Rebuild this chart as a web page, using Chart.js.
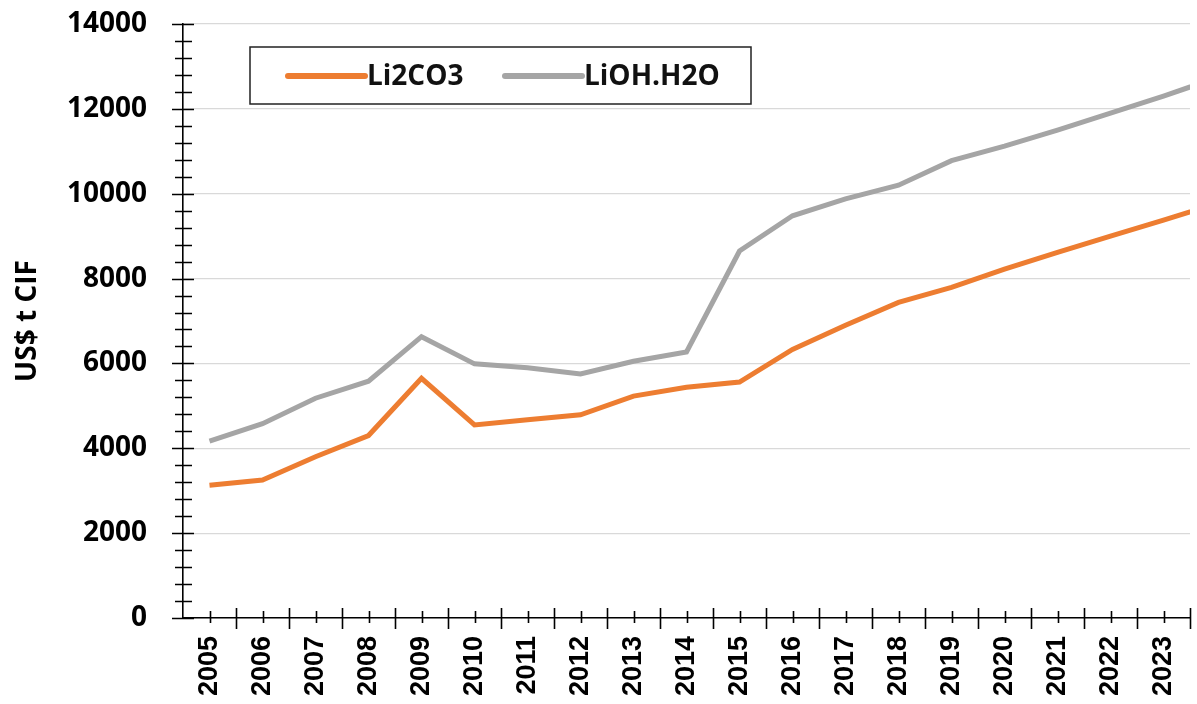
<!DOCTYPE html>
<html lang="en">
<head>
    <meta charset="UTF-8">
    <title>Lithium carbonate and hydroxide price</title>
    <script src="https://cdn.jsdelivr.net/npm/chart.js@4.4.0/dist/chart.umd.min.js"></script>
    <style>
        html, body { margin: 0; padding: 0; background: #fff; }
        #wrap { width: 1197px; height: 704px; }
    </style>
</head>
<body>
    <div id="wrap"><canvas id="priceChart" width="1197" height="704"></canvas></div>
    <script>
        // years of the series; the last one runs off the right edge of the plot in the source image
        const years = [2005, 2006, 2007, 2008, 2009, 2010, 2011, 2012, 2013, 2014,
                       2015, 2016, 2017, 2018, 2019, 2020, 2021, 2022, 2023, 2024];
        const yearTicks = [2005, 2006, 2007, 2008, 2009, 2010, 2011, 2012, 2013, 2014,
                           2015, 2016, 2017, 2018, 2019, 2020, 2021, 2022, 2023];
        const li2co3 = [3130, 3250, 3800, 4300, 5650, 4550, 4670, 4790, 5230, 5440,
                        5560, 6330, 6900, 7440, 7790, 8220, 8620, 9000, 9380, 9760];
        const lioh = [4170, 4580, 5180, 5580, 6630, 5990, 5900, 5750, 6050, 6270,
                      8650, 9480, 9880, 10200, 10780, 11120, 11500, 11900, 12300, 12730];
        const seriesNames = ['Li2CO3', 'LiOH.H2O'];
        const yTicks = [0, 2000, 4000, 6000, 8000, 10000, 12000, 14000];

        const ORANGE = '#ED7D31';
        const GREY = '#A5A5A5';

        const toPoints = vals => years.map((yr, i) => ({ x: yr, y: vals[i] }));

        // crossing tick marks on both axes, like the spreadsheet original
        const axisTicks = {
            id: 'axisTicks',
            afterDraw(chart) {
                const { ctx, chartArea } = chart;
                const xs = chart.scales.x, ys = chart.scales.y;
                ctx.save();
                ctx.strokeStyle = '#000';
                ctx.lineWidth = 1.6;
                ctx.beginPath();
                const ax = chartArea.left;
                for (let v = 0; v <= 14000; v += 400) {
                    const y = Math.round(ys.getPixelForValue(v)) + 0.5;
                    const major = v % 2000 === 0;
                    ctx.moveTo(ax - (major ? 11 : 8), y);
                    ctx.lineTo(ax + (major ? 11 : 9), y);
                }
                const ay = chartArea.bottom;
                yearTicks.forEach(yr => {
                    const xb = Math.round(xs.getPixelForValue(yr + 0.5)) + 0.5;
                    ctx.moveTo(xb, ay - 10);
                    ctx.lineTo(xb, ay + 11);
                    const xc = Math.round(xs.getPixelForValue(yr)) + 0.5;
                    ctx.moveTo(xc, ay - 7);
                    ctx.lineTo(xc, ay + 5);
                });
                ctx.stroke();
                ctx.restore();
            }
        };

        // boxed legend sitting inside the plot
        const boxLegend = {
            id: 'boxLegend',
            afterDraw(chart) {
                const ctx = chart.ctx;
                ctx.save();
                ctx.fillStyle = '#fff';
                ctx.fillRect(250, 47, 501, 57);
                ctx.strokeStyle = '#222';
                ctx.lineWidth = 1.5;
                ctx.strokeRect(250, 47, 501, 57);
                const items = [
                    { x0: 288, x1: 365, tx: 367 },
                    { x0: 505, x1: 582, tx: 584 }
                ];
                ctx.font = "bold 28px 'Open Sans'";
                ctx.textBaseline = 'middle';
                ctx.lineCap = 'round';
                chart.data.datasets.forEach((ds, i) => {
                    const it = items[i];
                    ctx.strokeStyle = ds.borderColor;
                    ctx.lineWidth = 6;
                    ctx.beginPath();
                    ctx.moveTo(it.x0, 76);
                    ctx.lineTo(it.x1, 76);
                    ctx.stroke();
                    ctx.fillStyle = '#111';
                    ctx.fillText(ds.label, it.tx, 77);
                });
                ctx.restore();
            }
        };

        new Chart(document.getElementById('priceChart'), {
            type: 'line',
            data: {
                datasets: [
                    { label: seriesNames[0], data: toPoints(li2co3), borderColor: ORANGE, backgroundColor: ORANGE, borderWidth: 5, tension: 0, pointRadius: 0 },
                    { label: seriesNames[1], data: toPoints(lioh), borderColor: GREY, backgroundColor: GREY, borderWidth: 5, tension: 0, pointRadius: 0 }
                ]
            },
            options: {
                responsive: false,
                animation: false,
                layout: { padding: { top: 24, right: 7, left: 0, bottom: 0 } },
                plugins: {
                    legend: { display: false },
                    tooltip: { enabled: false }
                },
                scales: {
                    x: {
                        type: 'linear',
                        min: 2004.5,
                        max: 2023.5,
                        afterBuildTicks: s => { s.ticks = yearTicks.map(v => ({ value: v })); },
                        grid: { display: false, drawTicks: false },
                        border: { display: true, color: '#000', width: 1.6 },
                        ticks: {
                            color: '#000',
                            font: { family: "'Liberation Sans', Arial", weight: 'bold', size: 27 },
                            minRotation: 90,
                            maxRotation: 90,
                            autoSkip: false,
                            padding: 18,
                            callback: v => String(v)
                        },
                        afterFit: s => { s.height = 86; s.paddingLeft = 0; s.paddingRight = 0; }
                    },
                    y: {
                        min: 0,
                        max: 14000,
                        afterBuildTicks: s => { s.ticks = yTicks.map(v => ({ value: v })); },
                        grid: { color: '#d9d9d9', lineWidth: 1.2, drawTicks: false },
                        border: { display: true, color: '#000', width: 1.6 },
                        ticks: {
                            color: '#000',
                            font: { family: "'Open Sans'", weight: 'bold', size: 28 },
                            padding: 36,
                            callback: v => String(v)
                        },
                        title: {
                            display: true,
                            text: 'US$ t CIF',
                            color: '#000',
                            font: { family: "'Open Sans'", weight: 'bold', size: 28 },
                            padding: { top: 11, bottom: 0 }
                        },
                        afterFit: s => { s.width = 183; s.paddingTop = 0; s.paddingBottom = 0; }
                    }
                }
            },
            plugins: [axisTicks, boxLegend]
        });
    </script>
</body>
</html>
